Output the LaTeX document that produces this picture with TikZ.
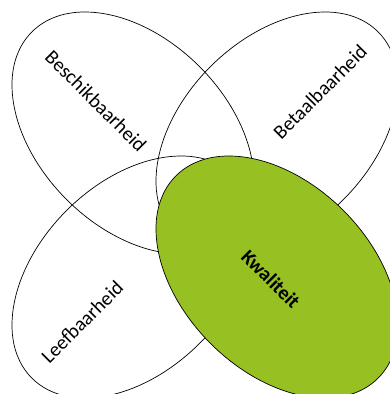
\documentclass[tikz,border=0pt]{standalone}
\usepackage{fontspec}
\setmainfont{Carlito}
\usetikzlibrary{shapes.geometric}
\definecolor{kwaliteitgroen}{RGB}{151,193,35}

\begin{document}
\begin{tikzpicture}[x=1pt,y=-1pt,
    blad/.style={ellipse, draw, line width=0.7pt, minimum width=286pt, minimum height=188pt, inner sep=0pt},
    bladtekst/.style={font=\fontsize{20}{24}\selectfont, inner sep=0pt}]
    \useasboundingbox (0,0) rectangle (390,394);
    \clip (0,0) rectangle (390,394);

    \draw
    (133,133)node[blad, rotate=-45](besch){}
    (277,133)node[blad, rotate=45](betaal){}
    (133,277)node[blad, rotate=45](leef){}
    (277,277)node[blad, rotate=-45, fill=kwaliteitgroen](kwal){}

    (96,101)node[bladtekst, rotate=-45](beschtekst){Beschikbaarheid}
    (320,92)node[bladtekst, rotate=45](betaaltekst){Betaalbaarheid}
    (82,322)node[bladtekst, rotate=45](leeftekst){Leefbaarheid}
    (271,279)node[bladtekst, rotate=-45, font=\fontsize{20}{24}\selectfont\bfseries](kwaltekst){Kwaliteit}
    ;
\end{tikzpicture}
\end{document}
